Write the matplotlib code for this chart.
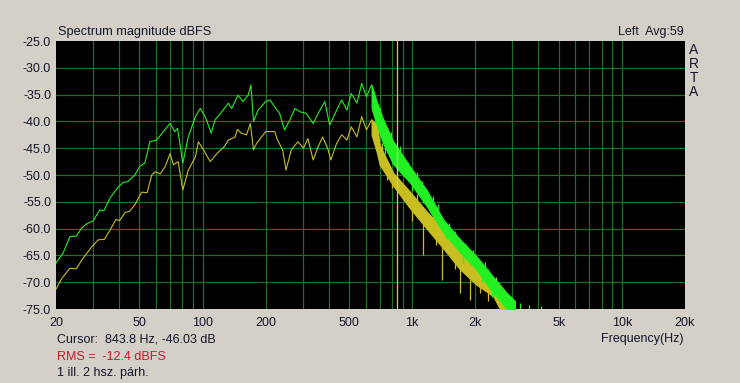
import matplotlib
matplotlib.use('Agg')
import matplotlib.pyplot as plt
from matplotlib.ticker import NullFormatter

plt.rcParams['font.family'] = ['Liberation Sans', 'DejaVu Sans']

# ---------------- data ----------------
# upper (green) trace, low/mid frequency part
green_f = [20, 21.6, 23.3, 25, 26.5, 28, 30, 32.4, 33.8, 36.2, 39.3, 41.8, 44.1, 47.5,
           50.2, 53, 55, 56, 60.3, 66, 70, 73.7, 76, 80.5, 85.5, 92.5, 97.5, 103, 110,
           114.7, 123.6, 132.7, 137.6, 147.6, 156, 165, 170, 175, 184, 200, 209.5, 221,
           233, 246, 261, 276, 291, 312, 337, 356, 383, 404, 436, 461, 488, 512, 545,
           574, 605, 640]
green_db = [-66.4, -64.6, -61.5, -61.4, -59.9, -59.1, -58.6, -56.5, -56.7, -54.3, -52.4,
            -51.4, -51.2, -50.0, -48.4, -47.8, -45.3, -43.8, -43.5, -41.6, -40.4, -41.9,
            -41.3, -47.8, -42.9, -39.1, -37.6, -39.1, -42.2, -39.7, -38.2, -36.6, -37.6,
            -35.1, -36.3, -35.1, -33.2, -40.0, -37.9, -36.3, -36.0, -37.3, -38.5, -41.6,
            -39.7, -37.6, -38.2, -38.5, -40.4, -38.5, -36.3, -40.7, -37.9, -36.0, -37.9,
            -34.8, -36.6, -32.9, -35.4, -33.2]

# lower (yellow) trace, low/mid frequency part
yellow_f = [20, 21.3, 23.3, 25, 26.5, 29.6, 31.8, 34, 36.2, 38.6, 40.2, 42.7, 44.8, 47.5,
            51.2, 54.4, 57.2, 59.3, 62.8, 66.4, 70, 72.6, 76.5, 80.5, 85.5, 92.5, 95.5,
            101, 108.8, 117, 127, 132.7, 143, 146.5, 153, 162, 169, 175, 181, 200, 221,
            228, 241, 250, 265, 285, 303, 318, 337, 356, 374, 395, 409, 436, 461, 488,
            512, 545, 574, 605, 640]
yellow_db = [-71.3, -69.3, -67.4, -67.5, -65.9, -63.4, -62.1, -62.0, -60.3, -58.3, -58.5,
             -57.0, -56.8, -55.6, -53.2, -53.3, -50.0, -49.4, -49.8, -48.4, -46.0, -48.1,
             -47.5, -52.8, -49.1, -46.6, -43.8, -45.3, -47.5, -46.0, -44.7, -43.5, -42.9,
             -41.5, -42.2, -42.5, -40.4, -45.3, -44.1, -41.9, -41.9, -43.5, -45.3, -49.1,
             -45.3, -43.8, -45.0, -43.2, -47.2, -44.7, -42.9, -45.0, -47.2, -44.1, -42.5,
             -43.5, -41.0, -42.9, -39.1, -41.6, -39.7]

# dense noisy high-frequency part: band envelopes
green_band_f = [640, 680, 725, 812, 975, 1172, 1406, 1690, 2029, 2434, 2822, 3090]
green_band_hi = [-33.2, -36.5, -39.5, -43.7, -48.4, -52.8, -58.3, -62.0, -65.2, -69.0, -72.0, -73.5]
green_band_lo = [-37.5, -41.0, -44.0, -48.0, -51.4, -55.8, -60.7, -64.4, -67.7, -72.0, -75.0, -75.0]

yellow_band_f = [640, 680, 700, 812, 975, 1172, 1406, 1690, 2029, 2434, 2620, 2768]
yellow_band_hi = [-39.7, -40.5, -44.4, -49.6, -53.1, -56.8, -60.0, -63.4, -67.1, -69.5, -71.0, -74.0]
yellow_band_lo = [-42.5, -46.0, -48.1, -52.0, -56.2, -60.0, -63.7, -67.6, -70.5, -72.6, -75.0, -75.0]

# isolated spikes sticking out of the bands (freq, from dB, to dB)
green_spike_f = [700, 740, 760, 790, 858, 870, 957, 1000, 1050, 1109, 1125, 1250, 1330,
                 1450, 1500, 1600, 1750, 1800, 1885, 1950, 2100, 2150, 2222, 2300, 2392,
                 2600, 2700, 3280, 3600, 4100]
green_spike_a = [-39.0, -42.0, -42.5, -43.5, -46.5, -46.5, -49.5, -51.0, -51.0, -53.0, -53.5,
                 -55.0, -57.0, -60.0, -60.5, -62.0, -64.0, -64.0, -66.0, -66.0, -67.5, -68.0,
                 -68.0, -69.5, -70.5, -72.0, -73.0, -75.0, -75.0, -75.0]
green_spike_b = [-37.5, -46.0, -41.0, -42.0, -45.0, -44.5, -47.5, -53.0, -49.5, -51.2, -55.2,
                 -54.0, -55.5, -62.0, -59.0, -60.5, -66.5, -62.8, -64.5, -64.0, -66.0, -70.0,
                 -66.2, -67.5, -72.7, -70.0, -71.0, -73.9, -74.3, -74.4]

yellow_spike_f = [720, 760, 800, 850, 940, 1000, 1050, 1125, 1250, 1300, 1382, 1500, 1600,
                  1690, 1800, 1885, 2100, 2200, 2300, 2500]
yellow_spike_a = [-46.0, -48.0, -50.0, -50.5, -54.5, -55.0, -55.0, -59.0, -58.5, -60.0, -62.5,
                  -62.5, -64.5, -66.0, -66.0, -69.0, -69.0, -69.0, -70.0, -71.0]
yellow_spike_b = [-44.0, -51.0, -52.5, -49.0, -53.1, -58.5, -53.5, -65.0, -57.0, -63.0, -69.6,
                  -61.0, -67.5, -72.0, -64.0, -73.3, -72.0, -67.5, -73.5, -69.0]

cursor_f = 843.8

grid_f = [30, 40, 50, 60, 70, 80, 90, 100, 200, 300, 400, 500, 600, 700, 800, 900,
          1000, 2000, 3000, 4000, 5000, 6000, 7000, 8000, 9000, 10000]
grid_db = [-30, -35, -40, -45, -50, -55, -60, -65, -70]

x_ticks = [20, 50, 100, 200, 500, 1000, 2000, 5000, 10000, 20000]
x_tick_labels = ['20', '50', '100', '200', '500', '1k', '2k', '5k', '10k', '20k']
y_ticks = [-25, -30, -35, -40, -45, -50, -55, -60, -65, -70, -75]
y_tick_labels = ['-25.0', '-30.0', '-35.0', '-40.0', '-45.0', '-50.0', '-55.0',
                 '-60.0', '-65.0', '-70.0', '-75.0']

# ---------------- drawing ----------------
W, H = 740, 383
BG = '#d4d0c8'
TXT = '#14142a'
GREEN = '#22f022'
YELLOW = '#c8be22'

fig = plt.figure(figsize=(W / 100, H / 100), dpi=100, facecolor=BG)
ax = fig.add_axes([56 / W, 1 - 309 / H, 629 / W, 268 / H])
ax.set_facecolor('black')
ax.set_xscale('log')
ax.set_xlim(20, 20000)
ax.set_ylim(-75, -25)
for s in ax.spines.values():
    s.set_visible(False)

ax.xaxis.remove_overlapping_locs = False
ax.yaxis.remove_overlapping_locs = False
ax.set_xticks(x_ticks)
ax.set_xticklabels(x_tick_labels)
ax.set_yticks(y_ticks)
ax.set_yticklabels(y_tick_labels)
ax.set_xticks(grid_f, minor=True)
ax.set_yticks(grid_db, minor=True)
ax.xaxis.set_minor_formatter(NullFormatter())
ax.yaxis.set_minor_formatter(NullFormatter())
ax.grid(which='minor', color='#1e6e28', lw=0.9)
ax.set_axisbelow(True)
ax.tick_params(which='both', length=0, labelsize=9, colors=TXT)
ax.tick_params(axis='x', pad=6)
ax.tick_params(axis='y', pad=3.5)

# bands
ax.fill_between(yellow_band_f, yellow_band_lo, yellow_band_hi, color=YELLOW, lw=0.8,
                edgecolor=YELLOW, zorder=2)
ax.fill_between(green_band_f, green_band_lo, green_band_hi, color=GREEN, lw=0.8,
                edgecolor=GREEN, zorder=3)
ax.vlines(yellow_spike_f, yellow_spike_a, yellow_spike_b, color=YELLOW, lw=0.9, zorder=2)
ax.vlines(green_spike_f, green_spike_a, green_spike_b, color=GREEN, lw=0.9, zorder=3)

# lines
ax.plot(yellow_f, yellow_db, color=YELLOW, lw=0.8, zorder=2)
ax.plot(green_f, green_db, color=GREEN, lw=0.8, zorder=3)

ax.axvline(cursor_f, color='#d4cc5a', lw=0.9, zorder=4)


def fx(x):
    return x / W


def fy(y):
    return 1 - y / H


fs = 9
fig.text(fx(58), fy(35), 'Spectrum magnitude dBFS', fontsize=9.2, color=TXT, va='baseline')
fig.text(fx(684), fy(35), 'Left  Avg:59', fontsize=fs, color=TXT, va='baseline', ha='right')
for i, ch in enumerate('ARTA'):
    fig.text(fx(694), fy(49.5 + 14 * i), ch, fontsize=10, color=TXT, ha='center', va='center')
fig.text(fx(683), fy(342), 'Frequency(Hz)', fontsize=fs, color=TXT, va='baseline', ha='right')
fig.text(fx(57), fy(343), 'Cursor:  843.8 Hz, -46.03 dB', fontsize=fs, color=TXT, va='baseline')
fig.text(fx(57), fy(360), 'RMS =  -12.4 dBFS', fontsize=fs, color='#d0142c', va='baseline')
fig.text(fx(57), fy(376), '1 ill. 2 hsz. párh.', fontsize=fs, color=TXT, va='baseline')

fig.savefig('out.png', dpi=100, facecolor=BG)
